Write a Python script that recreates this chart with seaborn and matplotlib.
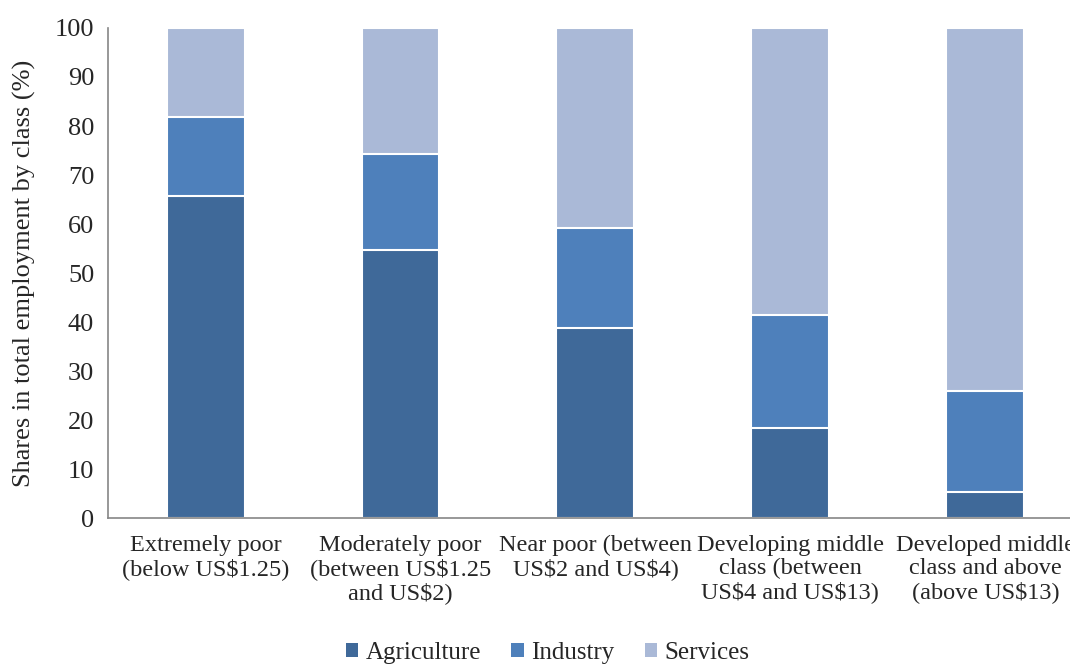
import matplotlib
matplotlib.use("Agg")
import matplotlib.pyplot as plt
import numpy as np
import pandas as pd
import seaborn as sns
from matplotlib.patches import Patch

classes = ["Extremely poor\n(below US\\$1.25)",
           "Moderately poor\n(between US\\$1.25\nand US\\$2)",
           "Near poor (between\nUS\\$2 and US\\$4)",
           "Developing middle\nclass (between\nUS\\$4 and US\\$13)",
           "Developed middle\nclass and above\n(above US\\$13)"]
agriculture = [65.8, 54.8, 38.7, 18.4, 5.4]
industry = [16.1, 19.4, 20.5, 23.0, 20.6]
services = [18.1, 25.8, 40.8, 58.6, 74.0]

colors = {"Agriculture": "#3f6999", "Industry": "#4e80bb", "Services": "#aab9d7"}

sns.set_style("white")
plt.rcParams["font.family"] = ["Liberation Serif", "DejaVu Serif"]

df = pd.DataFrame({"cls": classes,
                   "Agriculture": agriculture,
                   "Industry": industry,
                   "Services": services})
df["ind_top"] = df["Agriculture"] + df["Industry"]
df["srv_top"] = df["ind_top"] + df["Services"]

fig = plt.figure(figsize=(10.7, 6.66), dpi=100)
ax = fig.add_axes([0.101, 0.222, 0.911, 0.736])

for col, name in [("srv_top", "Services"), ("ind_top", "Industry"), ("Agriculture", "Agriculture")]:
    sns.barplot(data=df, x="cls", y=col, color=colors[name], saturation=1,
                width=0.4, edgecolor="white", linewidth=1.5, ax=ax, zorder=2)

ax.set_xlim(-0.5, 4.5)
ax.set_ylim(0, 100)
ax.set_yticks(range(0, 101, 10))
ax.set_xlabel("")
ax.set_ylabel("Shares in total employment by class (%)", fontsize=19)
ax.yaxis.set_label_coords(-0.074, 0.5)
ax.tick_params(axis="y", labelsize=19, length=5, color="#868686", width=1.2, pad=5)
ax.tick_params(axis="x", which="major", labelsize=17.5, length=0, pad=12)
ax.set_xticks(np.arange(-0.5, 5, 1), minor=True)
ax.tick_params(axis="x", which="minor", length=6, color="#868686", width=1.2)
for lbl in ax.get_xticklabels():
    lbl.set_linespacing(1.12)

for s in ["top", "right"]:
    ax.spines[s].set_visible(False)
for s in ["left", "bottom"]:
    ax.spines[s].set_color("#868686")
    ax.spines[s].set_linewidth(1.2)

handles = [Patch(facecolor=colors[n], edgecolor="none", label=n)
           for n in ["Agriculture", "Industry", "Services"]]
fig.legend(handles=handles, loc="center", bbox_to_anchor=(0.512, 0.02), ncol=3,
           frameon=False, fontsize=18, handlelength=0.5, handleheight=0.5,
           handletextpad=0.3, columnspacing=1.2)

fig.savefig("out.png", dpi=100)
